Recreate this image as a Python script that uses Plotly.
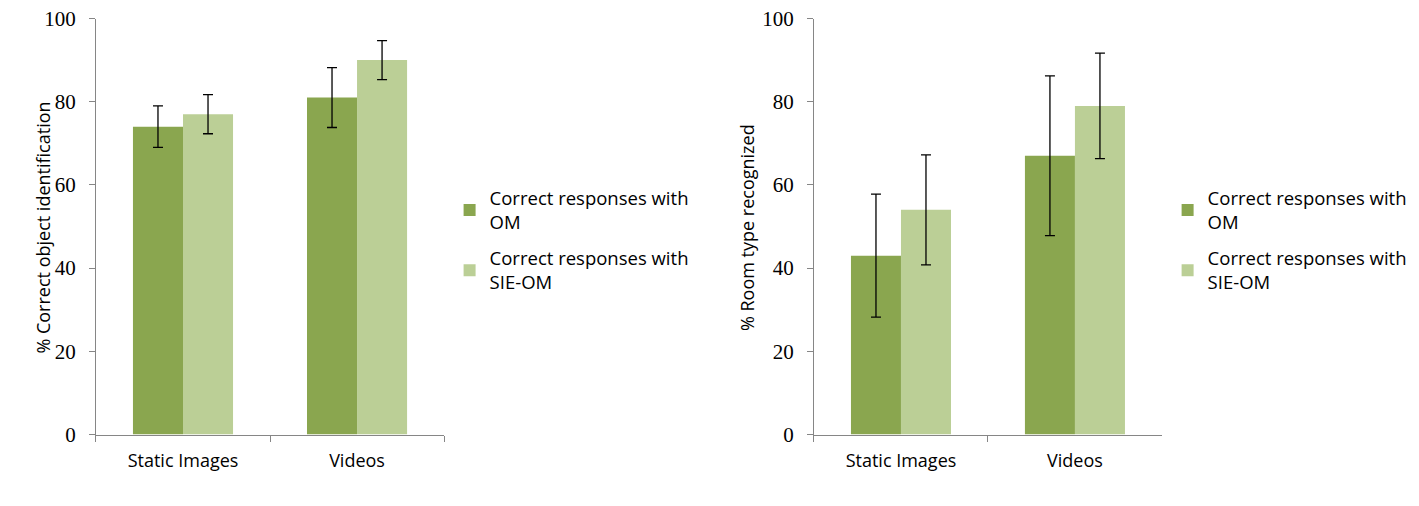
import plotly.graph_objects as go
from plotly.subplots import make_subplots

categories = ["Static Images", "Videos"]
series_names = ["Correct responses with<br>OM", "Correct responses with<br>SIE-OM"]

# left chart: object identification
obj_om = [74, 81]
obj_om_err = [5, 7.2]
obj_sie = [77, 90]
obj_sie_err = [4.7, 4.7]

# right chart: room type
room_om = [43, 67]
room_om_err = [14.8, 19.2]
room_sie = [54, 79]
room_sie_err = [13.2, 12.7]

y_titles = ["% Correct object identification", "% Room type recognized"]

colors = ["#8AA64F", "#BBCF96"]
sans = "Open Sans, Liberation Sans, sans-serif"
serif = "Liberation Serif, Times New Roman, serif"

fig = make_subplots(rows=1, cols=2)

panels = [
    (1, "legend", [(obj_om, obj_om_err), (obj_sie, obj_sie_err)]),
    (2, "legend2", [(room_om, room_om_err), (room_sie, room_sie_err)]),
]
for col, leg, data in panels:
    for i, (vals, errs) in enumerate(data):
        fig.add_trace(
            go.Bar(
                x=categories, y=vals, name=series_names[i],
                marker=dict(color=colors[i], line=dict(width=0)),
                error_y=dict(type="data", array=errs, color="black",
                             thickness=1.3, width=5),
                legend=leg, legendgroup=f"{leg}-{i}",
            ),
            row=1, col=col,
        )

axis_common = dict(showline=True, linecolor="#868686", linewidth=1.3,
                   ticks="outside", tickcolor="#868686", ticklen=6,
                   showgrid=False, zeroline=False, automargin=False,
                   ticklabeloverflow="allow")

fig.update_xaxes(**axis_common, tickson="boundaries",
                 tickfont=dict(family=sans, size=18, color="black"),
                 ticklabelstandoff=10)
fig.update_yaxes(**axis_common, range=[0, 100], dtick=20,
                 tickfont=dict(family=serif, size=21, color="black"),
                 ticklabelstandoff=9)

# the page body adds an 8px offset, so domains are shifted to compensate
fig.update_xaxes(domain=[0.0620, 0.3073], row=1, col=1)
fig.update_xaxes(domain=[0.5680, 0.8132], row=1, col=2)
fig.update_yaxes(domain=[0.1571, 0.9792])

# y axis titles as rotated annotations
for text, xpos in zip(y_titles, [0.0148, 0.5204]):
    fig.add_annotation(text=text, x=xpos, y=0.566, xref="paper", yref="paper",
                       textangle=-90, showarrow=False,
                       font=dict(family=sans, size=18, color="black"))

legend_style = dict(font=dict(family=sans, size=18.5, color="black"),
                    xanchor="left", yanchor="top", tracegroupgap=9,
                    bgcolor="rgba(0,0,0,0)", itemwidth=30)

fig.update_layout(
    width=1419, height=506,
    margin=dict(l=0, r=0, t=0, b=0),
    paper_bgcolor="white", plot_bgcolor="white",
    barmode="group", bargap=0.425, bargroupgap=0,
    showlegend=True,
    legend=dict(x=0.3112, y=0.661, **legend_style),
    legend2=dict(x=0.8172, y=0.661, **legend_style),
)

fig.write_html("out.html")
